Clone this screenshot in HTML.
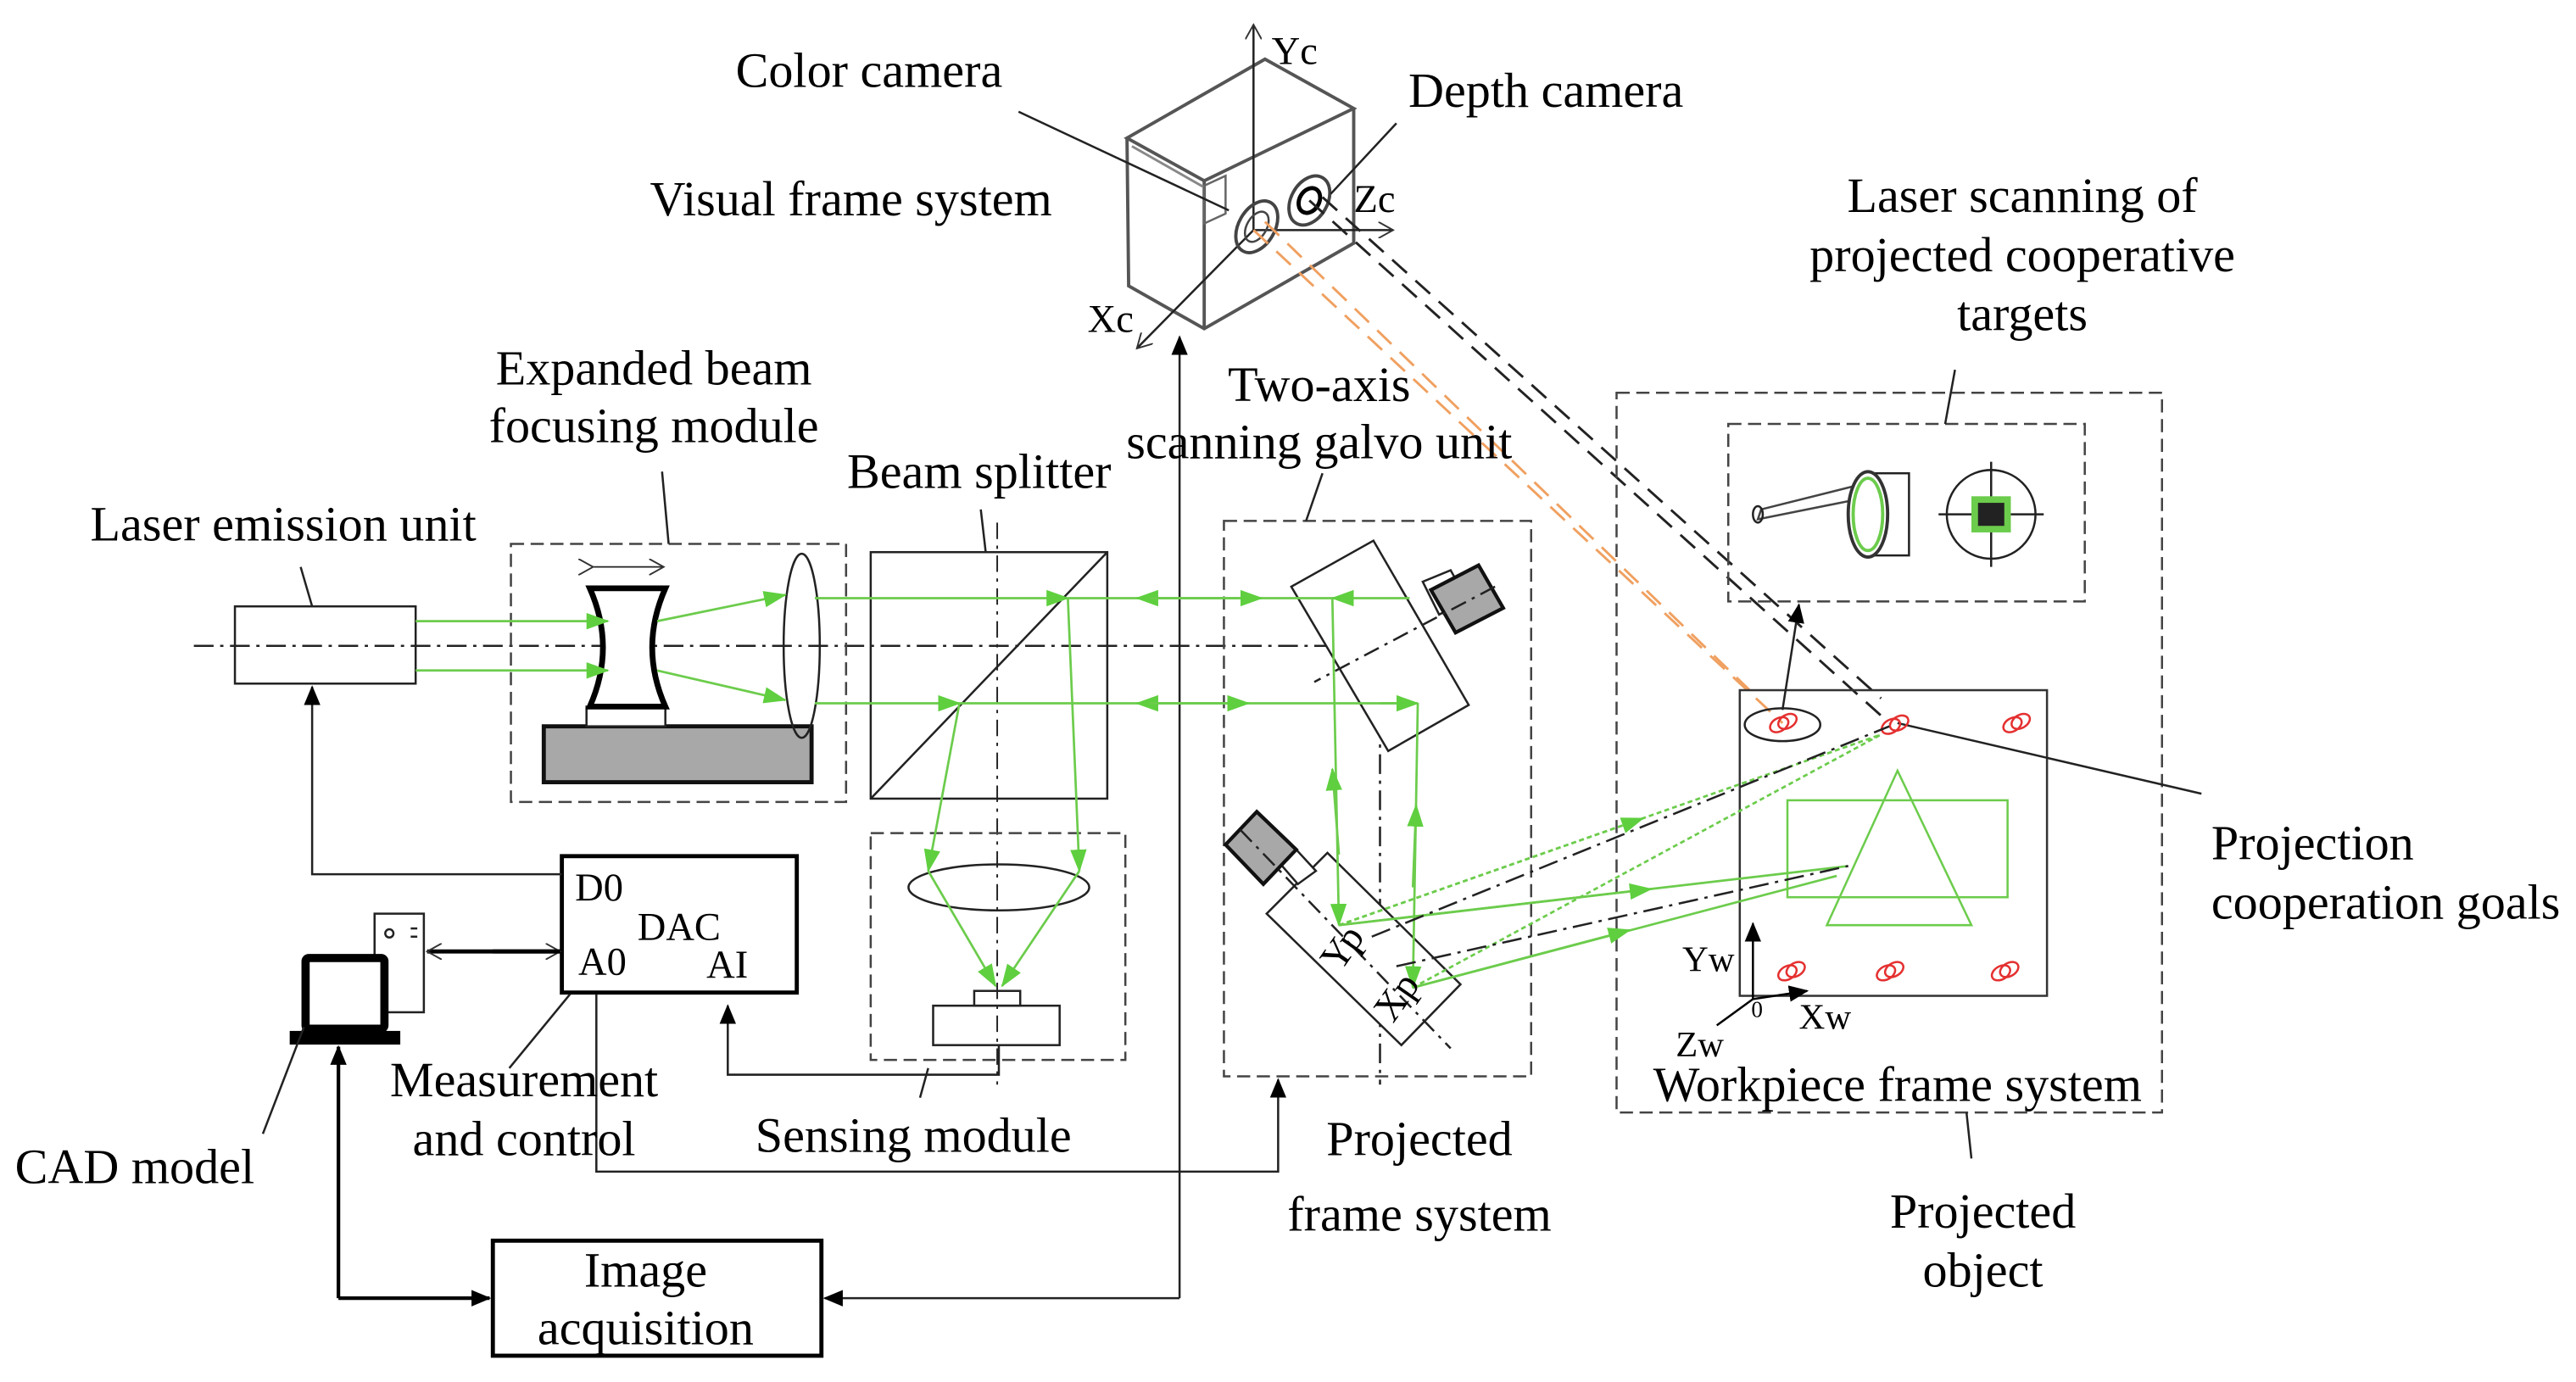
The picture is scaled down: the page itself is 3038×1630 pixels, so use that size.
<!DOCTYPE html>
<html><head><meta charset="utf-8"><style>html,body{margin:0;padding:0;background:#fff}svg{display:block}</style></head><body>
<svg width="3038" height="1630" viewBox="0 0 1568 841" preserveAspectRatio="none" xmlns="http://www.w3.org/2000/svg" font-family="Liberation Serif, serif" font-size="30">
<defs>
<marker id="g" markerWidth="8" markerHeight="8" refX="7" refY="4" orient="auto" markerUnits="userSpaceOnUse"><path d="M0,0 L8,4 L0,8 z" fill="#5fcf3f"/></marker>
<marker id="gb" markerWidth="14" markerHeight="10" refX="13" refY="5" orient="auto" markerUnits="userSpaceOnUse"><path d="M0,0 L14,5 L0,10 z" fill="#5fcf3f"/></marker>
<marker id="k" markerWidth="12" markerHeight="10" refX="11" refY="5" orient="auto" markerUnits="userSpaceOnUse"><path d="M0,0 L12,5 L0,10 z" fill="#000"/></marker>
<marker id="ko" markerWidth="10" markerHeight="10" refX="9" refY="5" orient="auto" markerUnits="userSpaceOnUse"><path d="M0,0 L9,5 L0,10" fill="none" stroke="#333" stroke-width="1"/></marker>
</defs>
<g fill="none" stroke="#222" stroke-width="1.3">
<line x1="118" y1="393" x2="840" y2="393" stroke-dasharray="12,4,2,4"/>
<polyline points="840,393 840,660" stroke-dasharray="12,4,2,4"/>
<rect x="143" y="369" width="110" height="47"/>
<line x1="183" y1="345" x2="190" y2="369"/>
<rect x="311" y="331" width="204" height="157" stroke-dasharray="8,4" stroke="#444"/>
<line x1="403" y1="287" x2="407" y2="331"/>
<rect x="331" y="442" width="163" height="34" fill="#a8a8a8" stroke="#111" stroke-width="2.5"/>
<rect x="357" y="430" width="48" height="12" fill="#fff"/>
<path d="M359,358 L405,358 Q389,394 405,430 L359,430 Q375,394 359,358 Z" fill="#fff" stroke="#000" stroke-width="3.5"/>
<line x1="361" y1="345" x2="404" y2="345" stroke-width="0.9" marker-end="url(#ko)" marker-start="url(#ko)"/>
<ellipse cx="488" cy="393" rx="11" ry="56"/>
<rect x="530" y="336" width="144" height="150"/>
<line x1="530" y1="486" x2="674" y2="336"/>
<line x1="607" y1="318" x2="607" y2="660" stroke-dasharray="10,4,2,4" stroke-width="1"/>
<line x1="597" y1="310" x2="600" y2="336"/>
<rect x="530" y="507" width="155" height="138" stroke-dasharray="8,4" stroke="#444"/>
<ellipse cx="608" cy="540" rx="55" ry="14"/>
<rect x="593" y="603" width="28" height="9"/>
<rect x="568" y="612" width="77" height="24"/>
<polyline points="608,636 608,654 443,654 443,612" marker-end="url(#k)"/>
<line x1="565" y1="650" x2="560" y2="668"/>
<rect x="342" y="521" width="143" height="83" stroke="#000" stroke-width="2.5"/>
<polyline points="342,532 190,532 190,418" marker-end="url(#k)"/>
<line x1="300" y1="579" x2="341" y2="579" stroke="#000" stroke-width="2.5" marker-end="url(#ko)"/>
<line x1="341" y1="579" x2="260" y2="579" stroke="#000" stroke-width="2.5" marker-end="url(#ko)"/>
<line x1="347" y1="605" x2="310" y2="650"/>
<polyline points="363,605 363,713 778,713 778,657" marker-end="url(#k)"/>
<rect x="228" y="556" width="30" height="60" fill="#fff"/>
<circle cx="237" cy="568" r="2.5"/>
<line x1="250" y1="565" x2="254" y2="565"/><line x1="250" y1="570" x2="254" y2="570"/>
<rect x="186" y="583" width="48" height="43" fill="#fff" stroke="#000" stroke-width="5" rx="2"/>
<rect x="177" y="628" width="66" height="7" fill="#000" stroke="#000"/>
<line x1="185" y1="625" x2="160" y2="690"/>
<polyline points="206,790 206,637" stroke="#000" stroke-width="2.2" marker-end="url(#k)"/>
<line x1="206" y1="790" x2="298" y2="790" stroke="#000" stroke-width="2.2" marker-end="url(#k)"/>
<rect x="300" y="755" width="200" height="70" stroke="#000" stroke-width="2.5"/>
<polyline points="718,790 502,790" marker-end="url(#k)"/>
<line x1="718" y1="790" x2="718" y2="205" marker-end="url(#k)"/>
<rect x="745" y="317" width="187" height="338" stroke-dasharray="8,4" stroke="#444"/>
<line x1="805" y1="288" x2="795" y2="317"/>
<polygon points="786,357 836,329 894,429 845,457" fill="#fff"/>
<polygon points="866,354 876,374 893,365 883,347" fill="#fff"/>
<polygon points="871,359 900,344 915,370 886,385" fill="#a8a8a8" stroke="#111" stroke-width="2.2"/>
<line x1="910" y1="357" x2="800" y2="415" stroke-dasharray="10,4,2,4"/>
<polygon points="771,556 808,519 889,599 853,636" fill="#fff"/>
<polygon points="777,523 789,517 801,530 790,538" fill="#fff"/>
<polygon points="746,514 765,494 789,517 769,538" fill="#a8a8a8" stroke="#111" stroke-width="2.2"/>
<line x1="755" y1="505" x2="883" y2="638" stroke-dasharray="10,4,2,4"/>
<polygon points="686,84 770,36 824,66 733,110" stroke="#555" stroke-width="2"/>
<polyline points="686,84 687,174 733,200 824,148 824,66" stroke="#555" stroke-width="2"/>
<line x1="733" y1="110" x2="733" y2="200" stroke="#555" stroke-width="2"/>
<line x1="689" y1="89" x2="733" y2="114" stroke="#888" stroke-width="1.5"/>
<polygon points="733,113 746,107 746,130 733,136" stroke="#666"/>
<line x1="763" y1="140" x2="763" y2="15" marker-end="url(#ko)"/>
<line x1="763" y1="140" x2="848" y2="140" marker-end="url(#ko)"/>
<line x1="763" y1="140" x2="692" y2="212" marker-end="url(#ko)"/>
<ellipse cx="765" cy="138" rx="11" ry="17" transform="rotate(30 765 138)" stroke="#444" stroke-width="2"/>
<ellipse cx="765" cy="138" rx="6" ry="10" transform="rotate(30 765 138)" stroke="#444"/>
<ellipse cx="797" cy="122" rx="11" ry="16" transform="rotate(30 797 122)" stroke="#444" stroke-width="2"/>
<ellipse cx="797" cy="122" rx="6" ry="8" transform="rotate(30 797 122)" stroke="#000" stroke-width="2.5"/>
<line x1="620" y1="68" x2="748" y2="128"/>
<line x1="850" y1="75" x2="810" y2="118"/>
<line x1="763" y1="140" x2="1085" y2="440" stroke="#f0a060" stroke-dasharray="12,7" stroke-width="1.5"/>
<line x1="770" y1="135" x2="1065" y2="420" stroke="#f0a060" stroke-dasharray="12,7" stroke-width="1.5"/>
<line x1="797" y1="122" x2="1150" y2="440" stroke="#222" stroke-dasharray="12,7" stroke-width="1.5"/>
<line x1="805" y1="120" x2="1145" y2="425" stroke="#222" stroke-dasharray="12,7" stroke-width="1.5"/>
<rect x="984" y="239" width="332" height="438" stroke-dasharray="8,4" stroke="#444"/>
<rect x="1052" y="258" width="217" height="108" stroke-dasharray="8,4" stroke="#444"/>
<line x1="1190" y1="225" x2="1184" y2="258"/>
<rect x="1059" y="420" width="187" height="186" stroke="#333"/>
<line x1="1197" y1="677" x2="1200" y2="705"/>
<ellipse cx="1085" cy="441" rx="23" ry="10"/>
<line x1="1085" y1="432" x2="1095" y2="368" marker-end="url(#k)"/>
<line x1="1155" y1="440" x2="1340" y2="483"/>
<polygon points="1155,469 1112,563 1200,563" stroke="#6ccc4c"/>
<rect x="1088" y="487" width="134" height="59" stroke="#6ccc4c"/>
<line x1="1067" y1="608" x2="1067" y2="562" marker-end="url(#k)" stroke="#000"/>
<line x1="1067" y1="608" x2="1100" y2="603" marker-end="url(#k)" stroke="#000"/>
<line x1="1067" y1="608" x2="1045" y2="624" stroke="#000"/>
<path d="M1072,310 L1128,296 L1130,304 L1070,316 Z" stroke="#444"/>
<ellipse cx="1070" cy="313" rx="3" ry="5"/>
<rect x="1138" y="288" width="24" height="50"/>
<ellipse cx="1137" cy="313" rx="12" ry="26" fill="#fff" stroke="#333" stroke-width="2"/>
<ellipse cx="1137" cy="313" rx="9" ry="22" stroke="#6ccc4c" stroke-width="2"/>
<circle cx="1212" cy="313" r="27"/>
<line x1="1180" y1="313" x2="1244" y2="313"/><line x1="1212" y1="281" x2="1212" y2="345"/>
<rect x="1200" y="302" width="24" height="22" fill="#6ccc4c" stroke="none"/>
<rect x="1204" y="306" width="16" height="14" fill="#222" stroke="none"/>
<g stroke="#e53030" stroke-width="1.3">
<ellipse cx="1083" cy="441" rx="6" ry="4" transform="rotate(-30 1083 441)"/><ellipse cx="1088" cy="439" rx="6" ry="4" transform="rotate(-30 1088 439)"/>
<ellipse cx="1151" cy="442" rx="6" ry="4" transform="rotate(-30 1151 442)"/><ellipse cx="1156" cy="440" rx="6" ry="4" transform="rotate(-30 1156 440)"/>
<ellipse cx="1225" cy="441" rx="6" ry="4" transform="rotate(-30 1225 441)"/><ellipse cx="1230" cy="439" rx="6" ry="4" transform="rotate(-30 1230 439)"/>
<ellipse cx="1088" cy="592" rx="6" ry="4" transform="rotate(-30 1088 592)"/><ellipse cx="1093" cy="590" rx="6" ry="4" transform="rotate(-30 1093 590)"/>
<ellipse cx="1148" cy="592" rx="6" ry="4" transform="rotate(-30 1148 592)"/><ellipse cx="1153" cy="590" rx="6" ry="4" transform="rotate(-30 1153 590)"/>
<ellipse cx="1218" cy="592" rx="6" ry="4" transform="rotate(-30 1218 592)"/><ellipse cx="1223" cy="590" rx="6" ry="4" transform="rotate(-30 1223 590)"/>
</g>
</g>
<g fill="none" stroke="#6ccc4c" stroke-width="1.4">
<line x1="253" y1="378" x2="370" y2="378" marker-end="url(#gb)"/>
<line x1="253" y1="408" x2="370" y2="408" marker-end="url(#gb)"/>
<line x1="400" y1="378" x2="478" y2="362" marker-end="url(#gb)"/>
<line x1="400" y1="408" x2="478" y2="426" marker-end="url(#gb)"/>
<line x1="496" y1="364" x2="650" y2="364" marker-end="url(#gb)"/>
<line x1="496" y1="428" x2="584" y2="428" marker-end="url(#gb)"/>
<line x1="650" y1="364" x2="858" y2="364"/>
<line x1="584" y1="428" x2="861" y2="428"/>
<line x1="700" y1="364" x2="692" y2="364" marker-end="url(#gb)"/>
<line x1="700" y1="364" x2="768" y2="364" marker-end="url(#gb)"/>
<line x1="700" y1="428" x2="692" y2="428" marker-end="url(#gb)"/>
<line x1="700" y1="428" x2="760" y2="428" marker-end="url(#gb)"/>
<line x1="820" y1="364" x2="811" y2="364" marker-end="url(#gb)"/>
<line x1="840" y1="428" x2="863" y2="428" marker-end="url(#gb)"/>
<line x1="584" y1="428" x2="565" y2="530" marker-end="url(#gb)"/>
<line x1="650" y1="364" x2="657" y2="530" marker-end="url(#gb)"/>
<line x1="565" y1="530" x2="606" y2="600" marker-end="url(#gb)"/>
<line x1="657" y1="530" x2="610" y2="600" marker-end="url(#gb)"/>
<line x1="811" y1="364" x2="815" y2="563" marker-end="url(#gb)"/>
<line x1="815" y1="520" x2="811" y2="468" marker-end="url(#gb)"/>
<line x1="863" y1="428" x2="860" y2="601" marker-end="url(#gb)"/>
<line x1="860" y1="540" x2="862" y2="490" marker-end="url(#gb)"/>
<line x1="815" y1="563" x2="1125" y2="527"/>
<line x1="815" y1="563" x2="1005" y2="541" marker-end="url(#gb)"/>
<line x1="860" y1="601" x2="1118" y2="533"/>
<line x1="860" y1="601" x2="992" y2="566" marker-end="url(#gb)"/>
<line x1="815" y1="563" x2="1145" y2="447" stroke-dasharray="3,2"/>
<line x1="815" y1="563" x2="1000" y2="498" marker-end="url(#gb)" stroke-dasharray="3,2"/>
<line x1="860" y1="601" x2="1145" y2="447" stroke-dasharray="3,2"/>
</g>
<g fill="none" stroke="#222" stroke-width="1.3" stroke-dasharray="12,4,2,4">
<line x1="835" y1="570" x2="1150" y2="442"/>
<line x1="850" y1="588" x2="1125" y2="527"/>
</g>
<g fill="#000">
<text x="55" y="329">Laser emission unit</text>
<text x="398" y="234" text-anchor="middle">Expanded beam</text>
<text x="398" y="269" text-anchor="middle">focusing module</text>
<text x="596" y="297" text-anchor="middle">Beam splitter</text>
<text x="803" y="244" text-anchor="middle">Two-axis</text>
<text x="803" y="279" text-anchor="middle">scanning galvo unit</text>
<text x="529" y="53" text-anchor="middle">Color camera</text>
<text x="518" y="131" text-anchor="middle">Visual frame system</text>
<text x="941" y="65" text-anchor="middle">Depth camera</text>
<text x="774" y="39" font-size="24">Yc</text>
<text x="824" y="129" font-size="24">Zc</text>
<text x="662" y="202" font-size="24">Xc</text>
<text x="1231" y="129" text-anchor="middle">Laser scanning of</text>
<text x="1231" y="165" text-anchor="middle">projected cooperative</text>
<text x="1231" y="201" text-anchor="middle">targets</text>
<text x="1346" y="523">Projection</text>
<text x="1346" y="559">cooperation goals</text>
<text x="1155" y="670" text-anchor="middle">Workpiece frame system</text>
<text x="1207" y="747" text-anchor="middle">Projected</text>
<text x="1207" y="783" text-anchor="middle">object</text>
<text x="864" y="703" text-anchor="middle">Projected</text>
<text x="864" y="749" text-anchor="middle">frame system</text>
<text x="556" y="701" text-anchor="middle">Sensing module</text>
<text x="319" y="667" text-anchor="middle">Measurement</text>
<text x="319" y="703" text-anchor="middle">and control</text>
<text x="82" y="720" text-anchor="middle">CAD model</text>
<text x="393" y="783" text-anchor="middle">Image</text>
<text x="393" y="818" text-anchor="middle">acquisition</text>
<text x="350" y="548" font-size="24">D0</text>
<text x="388" y="572" font-size="24">DAC</text>
<text x="352" y="593" font-size="24">A0</text>
<text x="430" y="595" font-size="24">AI</text>
<text x="1024" y="591" font-size="22">Yw</text>
<text x="1095" y="626" font-size="22">Xw</text>
<text x="1020" y="643" font-size="22">Zw</text>
<text x="1066" y="619" font-size="14">0</text>
<text x="804" y="590" font-size="24" transform="rotate(-55 812 580)">Yp</text>
<text x="836" y="620" font-size="24" transform="rotate(-55 845 610)">Xp</text>
</g>
</svg>
</body></html>
